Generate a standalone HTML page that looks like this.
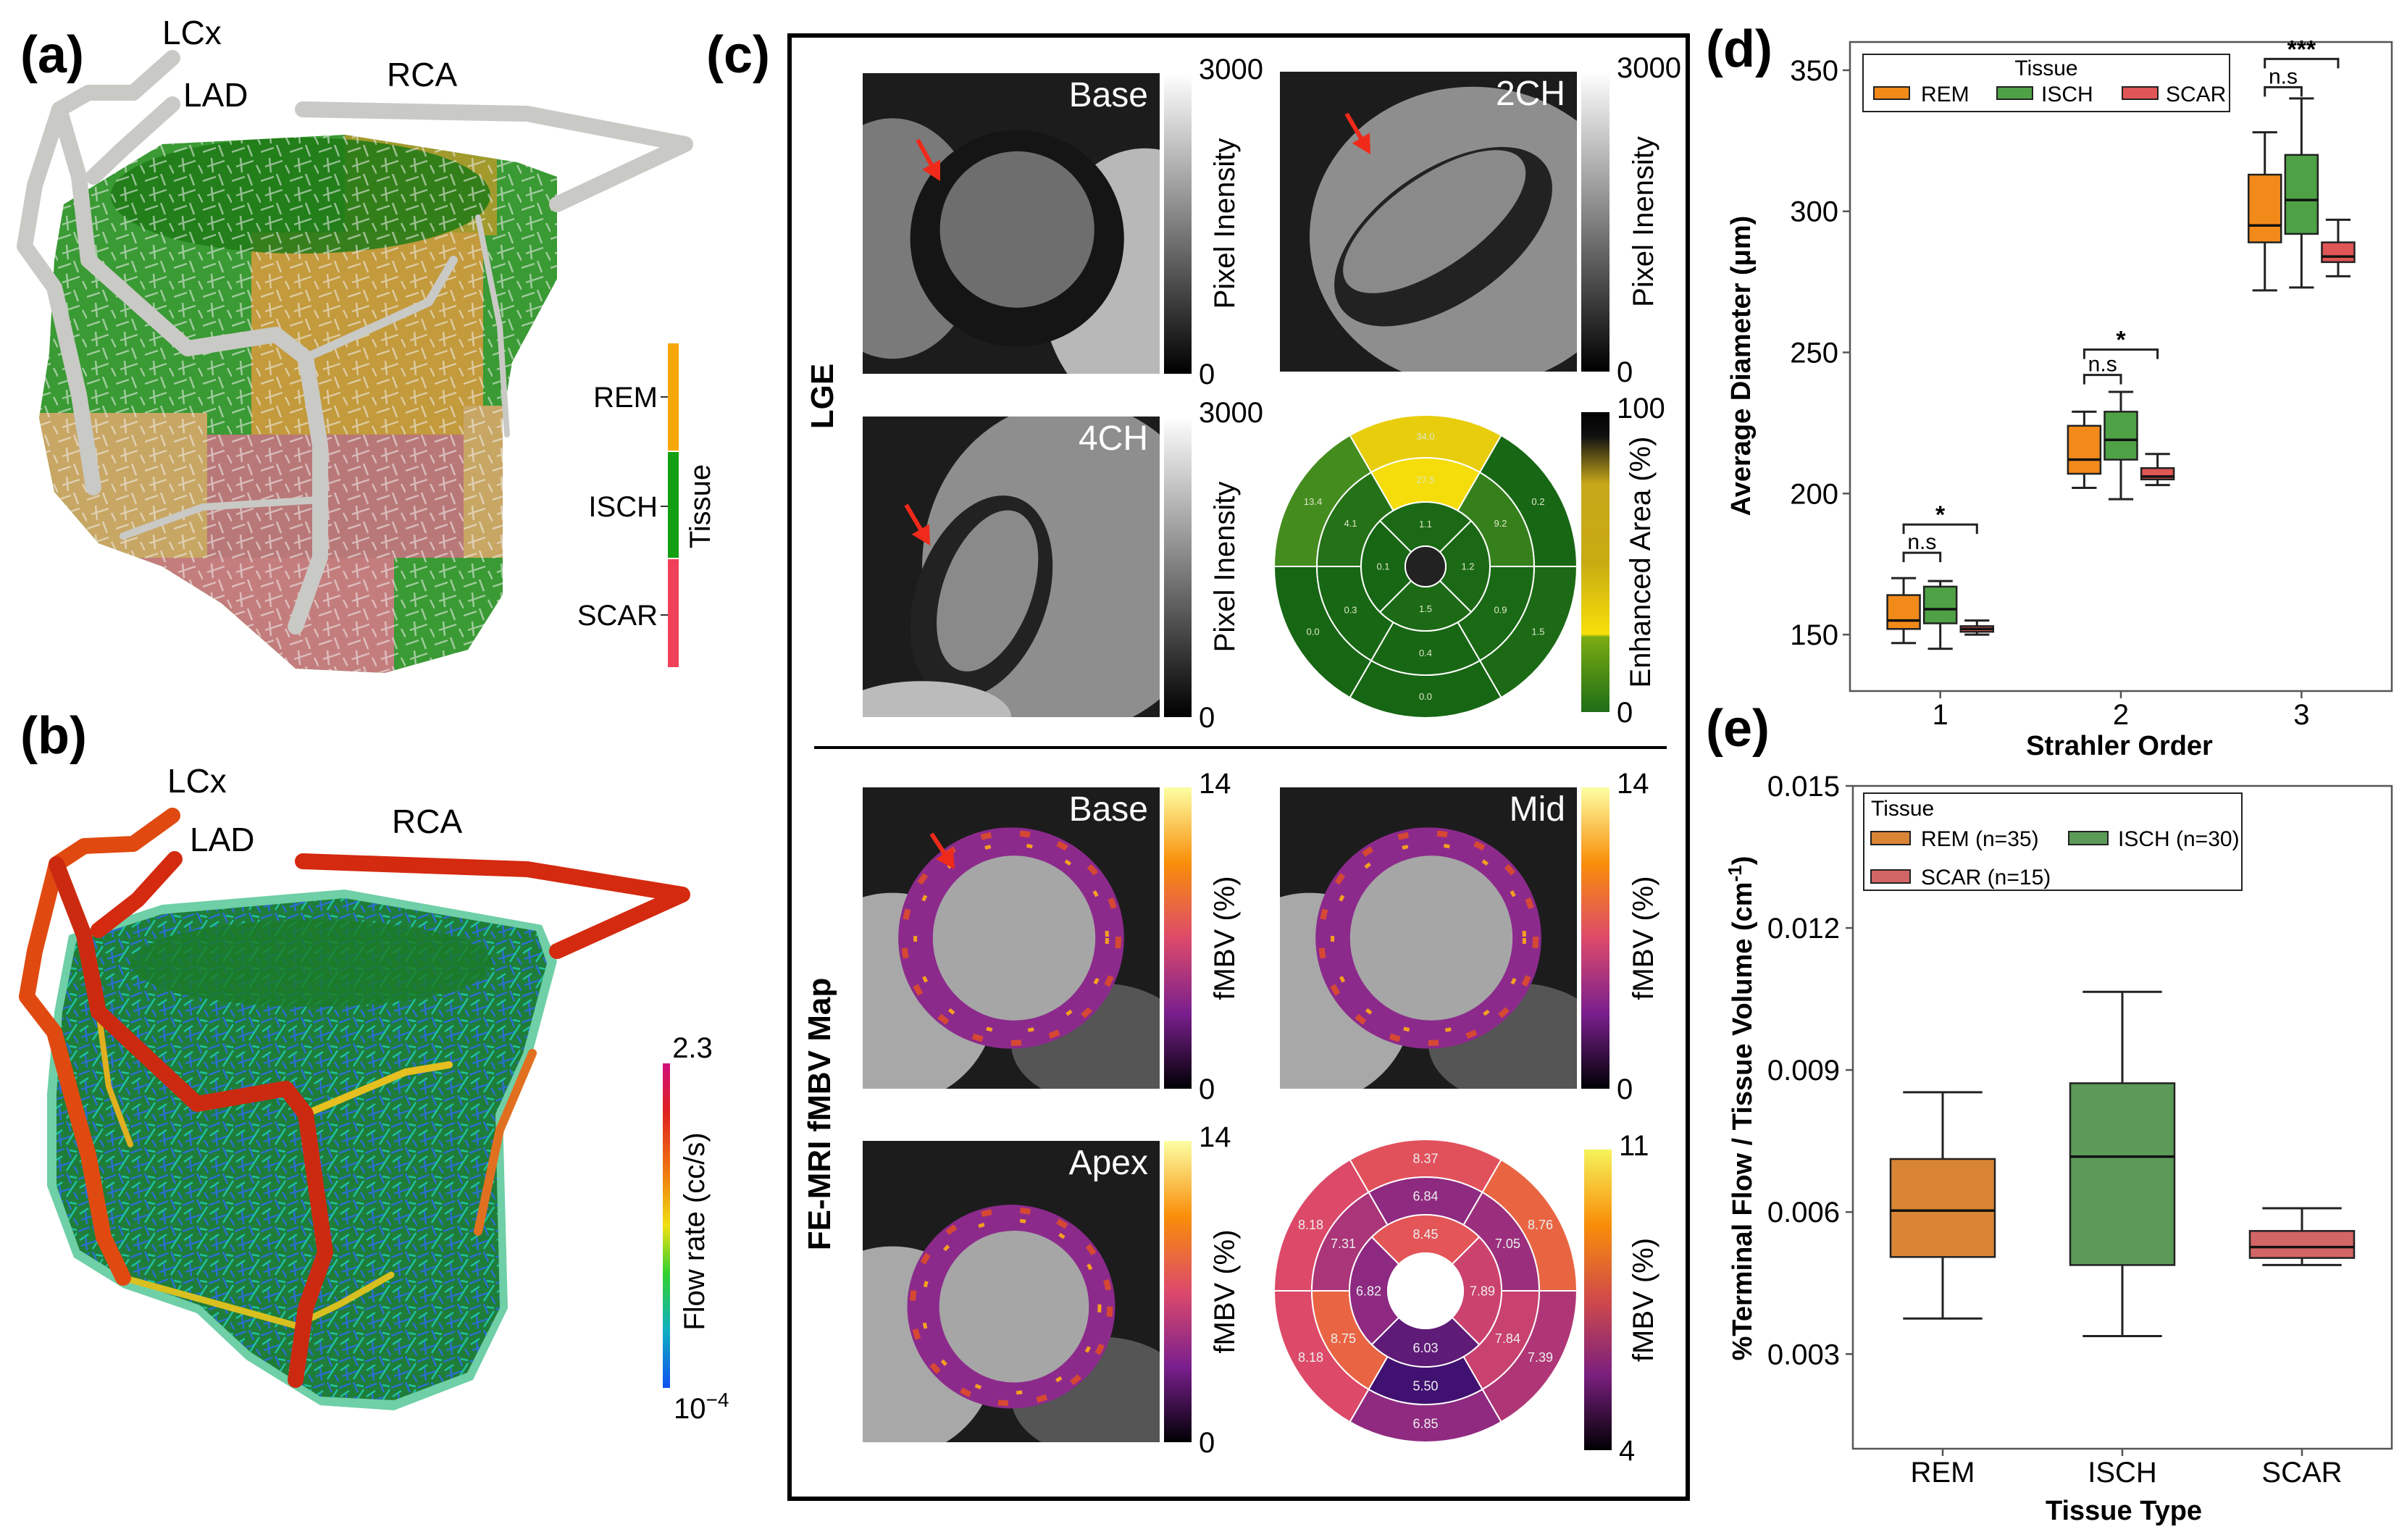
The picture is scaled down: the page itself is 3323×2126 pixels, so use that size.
<!DOCTYPE html>
<html><head><meta charset="utf-8"><style>
html,body{margin:0;padding:0;background:#fff}
svg{display:block;font-family:"Liberation Sans",Arial,sans-serif}
</style></head><body>
<svg id="fig" width="3323" height="2126" viewBox="0 0 3323 2126" xmlns="http://www.w3.org/2000/svg">
<defs>
  <pattern id="netA" width="40" height="40" patternUnits="userSpaceOnUse">
    <path d="M0 10 L18 4 M6 30 L30 22 M22 0 L28 16 M34 28 L40 40 M12 18 L14 38" stroke="#f2f2f2" stroke-width="2.5" opacity="0.55" fill="none"/>
  </pattern>
  <pattern id="netB" width="36" height="36" patternUnits="userSpaceOnUse">
    <path d="M0 8 L16 2 M4 28 L28 20 M20 0 L26 14 M30 26 L36 36 M10 16 L12 34" stroke="#2a6fd0" stroke-width="2.5" fill="none"/>
    <path d="M2 20 L14 12 M20 32 L34 10 M24 4 L34 6" stroke="#1fc2a0" stroke-width="2.5" fill="none"/>
  </pattern>
  <linearGradient id="grayBar" x1="0" y1="0" x2="0" y2="1"><stop offset="0" stop-color="#fff"/><stop offset="1" stop-color="#000"/></linearGradient>
  <linearGradient id="infBar" x1="0" y1="0" x2="0" y2="1"><stop offset="0" stop-color="#fcffa4"/><stop offset="0.25" stop-color="#f98e09"/><stop offset="0.5" stop-color="#dd4a6b"/><stop offset="0.75" stop-color="#7a1f8e"/><stop offset="1" stop-color="#000004"/></linearGradient>
  <linearGradient id="infBar2" x1="0" y1="0" x2="0" y2="1"><stop offset="0" stop-color="#f6f35a"/><stop offset="0.25" stop-color="#f98e09"/><stop offset="0.5" stop-color="#d04a4a"/><stop offset="0.75" stop-color="#7a1f7e"/><stop offset="1" stop-color="#000004"/></linearGradient>
  <linearGradient id="lgeBar" x1="0" y1="0" x2="0" y2="1"><stop offset="0" stop-color="#000"/><stop offset="0.08" stop-color="#111"/><stop offset="0.24" stop-color="#c7a81a"/><stop offset="0.5" stop-color="#c8aa12"/><stop offset="0.74" stop-color="#f6e10a"/><stop offset="0.75" stop-color="#7aab12"/><stop offset="1" stop-color="#1e6e18"/></linearGradient>
  <linearGradient id="flowBar" x1="0" y1="0" x2="0" y2="1"><stop offset="0" stop-color="#d0107a"/><stop offset="0.15" stop-color="#e02020"/><stop offset="0.35" stop-color="#f08010"/><stop offset="0.5" stop-color="#f0e010"/><stop offset="0.65" stop-color="#30d030"/><stop offset="0.82" stop-color="#10b0c0"/><stop offset="1" stop-color="#1050f0"/></linearGradient>
  <clipPath id="cpA"><path d="M88 282 L224 199 L476 186 L714 224 L769 244 L769 385 L707 500 L694 577 L694 821 L646 897 L531 929 L408 923 L306 833 L224 782 L136 750 L75 679 L54 577 L68 487 L75 359 Z"/></clipPath>
</defs>

<text x="28" y="100" font-size="72" font-weight="bold">(a)</text>
<text x="28" y="1040" font-size="72" font-weight="bold">(b)</text>
<text x="975" y="100" font-size="72" font-weight="bold">(c)</text>
<text x="2355" y="92" font-size="72" font-weight="bold">(d)</text>
<text x="2355" y="1030" font-size="72" font-weight="bold">(e)</text>

<g>
  <g clip-path="url(#cpA)">
    <rect x="0" y="150" width="800" height="800" fill="#3a9a34"/>
    <rect x="476" y="180" width="210" height="145" fill="#a29a2c"/>
    <rect x="347" y="321" width="320" height="294" fill="#c39a3c"/>
    <rect x="0" y="570" width="286" height="200" fill="#c8a664"/>
    <rect x="286" y="600" width="354" height="170" fill="#b97878"/>
    <rect x="640" y="560" width="60" height="210" fill="#c8a664"/>
    <rect x="0" y="770" width="544" height="200" fill="#c47d7d"/>
    <ellipse cx="415" cy="270" rx="262" ry="80" fill="#1f7a16" opacity="0.85"/>
    <rect x="0" y="150" width="800" height="800" fill="url(#netA)"/>
  </g>
  <g fill="none" stroke="#c9c9c5" stroke-linecap="round" stroke-linejoin="round">
    <polyline stroke-width="22" points="238,80 184,128 122,128 82,151 48,256 34,340 75,397 109,545 129,673"/>
    <polyline stroke-width="22" points="238,144 170,205 129,244"/>
    <polyline stroke-width="22" points="82,151 109,244 122,359 259,481 381,462 422,494 442,615 442,769 408,865"/>
    <polyline stroke-width="22" points="418,151 728,157 946,199 769,282"/>
    <polyline stroke-width="12" points="422,494 592,417 626,359"/>
    <polyline stroke-width="10" points="170,740 280,700 440,690"/>
    <polyline stroke-width="8" points="660,300 690,450 700,600"/>
  </g>
  <text x="224" y="61" font-size="46">LCx</text>
  <text x="253" y="147" font-size="46">LAD</text>
  <text x="534" y="119" font-size="46">RCA</text>
</g>
<g>
  <rect x="922" y="474" width="15" height="148" fill="#f6a70a"/>
  <rect x="922" y="624" width="15" height="146" fill="#12a012"/>
  <rect x="922" y="772" width="15" height="149" fill="#f0405a"/>
  <path d="M912 548 H922 M912 699 H922 M912 849 H922" stroke="#333" stroke-width="2"/>
  <text x="908" y="562" font-size="40" text-anchor="end">REM</text>
  <text x="908" y="713" font-size="40" text-anchor="end">ISCH</text>
  <text x="908" y="863" font-size="40" text-anchor="end">SCAR</text>
  <text transform="translate(980,699) rotate(-90)" font-size="40" text-anchor="middle">Tissue</text>
</g>

<g>
  <path d="M95 1291 L224 1249 L476 1228 L748 1277 L769 1327 L735 1454 L694 1538 L701 1806 L653 1905 L544 1947 L442 1940 L340 1877 L272 1813 L170 1778 L102 1736 L65 1637 L65 1510 L75 1397 Z" fill="#6fcfa6"/>
  <path d="M105 1300 L224 1262 L476 1240 L740 1285 L755 1330 L722 1454 L684 1538 L690 1806 L645 1895 L544 1933 L442 1928 L345 1866 L276 1802 L175 1766 L110 1726 L78 1637 L78 1510 L86 1397 Z" fill="#1f7d3a"/>
  <path d="M105 1300 L224 1262 L476 1240 L740 1285 L755 1330 L722 1454 L684 1538 L690 1806 L645 1895 L544 1933 L442 1928 L345 1866 L276 1802 L175 1766 L110 1726 L78 1637 L78 1510 L86 1397 Z" fill="url(#netB)"/>
  <ellipse cx="430" cy="1330" rx="250" ry="60" fill="#1a7a28" opacity="0.8"/>
  <g fill="none" stroke-linecap="round" stroke-linejoin="round">
    <polyline stroke="#e6c020" stroke-width="10" points="422,1538 560,1480 620,1470"/>
    <polyline stroke="#d8c020" stroke-width="9" points="170,1764 300,1800 408,1830 470,1800 540,1760"/>
    <polyline stroke="#e0b020" stroke-width="8" points="136,1397 150,1500 180,1580"/>
    <polyline stroke="#e07020" stroke-width="12" points="735,1454 690,1560 660,1700"/>
    <polyline stroke="#e04a10" stroke-width="22" points="238,1126 184,1165 116,1168 78,1193 48,1313 37,1376 75,1425 102,1524 122,1595 143,1708 170,1764"/>
    <polyline stroke="#d42a10" stroke-width="22" points="241,1186 190,1242 136,1284"/>
    <polyline stroke="#cc2a10" stroke-width="22" points="78,1193 116,1291 136,1397 272,1524 395,1503 422,1538 449,1729 422,1806 408,1905"/>
    <polyline stroke="#d42a10" stroke-width="22" points="418,1189 728,1200 942,1235 769,1313"/>
  </g>
  <text x="231" y="1094" font-size="46">LCx</text>
  <text x="262" y="1175" font-size="46">LAD</text>
  <text x="541" y="1150" font-size="46">RCA</text>
</g>
<g>
  <rect x="915" y="1468" width="10" height="448" fill="url(#flowBar)"/>
  <text x="956" y="1460" font-size="40" text-anchor="middle">2.3</text>
  <text x="930" y="1958" font-size="40">10<tspan dy="-16" font-size="28">−4</tspan></text>
  <text transform="translate(972,1700) rotate(-90)" font-size="40" text-anchor="middle">Flow rate (cc/s)</text>
</g>

<rect x="1090" y="49" width="1240" height="2020" fill="none" stroke="#000" stroke-width="6"/>
<line x1="1124" y1="1032" x2="2301" y2="1032" stroke="#000" stroke-width="4"/>
<text transform="translate(1150,547) rotate(-90)" font-size="44" font-weight="bold" text-anchor="middle">LGE</text>
<text transform="translate(1146,1538) rotate(-90)" font-size="44" font-weight="bold" text-anchor="middle">FE-MRI fMBV Map</text>
<g id="cpanel"></g>

<g id="chartD"></g>
<g id="chartE"></g>
</svg>
<script>
const NS="http://www.w3.org/2000/svg";
function mk(parent,tag,attrs,text){const e=document.createElementNS(NS,tag);for(const k in attrs)e.setAttribute(k,attrs[k]);if(text!==undefined)e.textContent=text;parent.appendChild(e);return e;}

/* ---------- Panel d data ---------- */
const dCategories=["1","2","3"];
const dSeries=["REM","ISCH","SCAR"];
const dREM=[[147,152,155,164,170],[202,207,212,224,229],[272,289,295,313,328]];
const dISCH=[[145,154,159,167,169],[198,212,219,229,236],[273,292,304,320,340]];
const dSCAR=[[150,151,152,153,155],[203,205,206,209,214],[277,282,284,289,297]];
const dTicks=[150,200,250,300,350];
const dSigNs=[179,242,344];
const dSigStar=[189,251,354];
const dSigLabel=["*","*","***"];

/* ---------- Panel e data ---------- */
const eCategories=["REM","ISCH","SCAR"];
const eREM=[0.00375,0.00505,0.00603,0.00712,0.00853];
const eISCH=[0.00338,0.00488,0.00717,0.00872,0.01065];
const eSCAR=[0.00488,0.00503,0.00526,0.00560,0.00608];
const eTicks=[0.003,0.006,0.009,0.012,0.015];

/* ---------- Bullseye data ---------- */
const lgeOuter=[34.0,0.2,1.5,0.0,0.0,13.4];
const lgeMid=[27.5,9.2,0.9,0.4,0.3,4.1];
const lgeInner=[1.1,1.2,1.5,0.1];
const fmbvOuter=[8.37,8.76,7.39,6.85,8.18,8.18];
const fmbvMid=[6.84,7.05,7.84,5.50,8.75,7.31];
const fmbvInner=[8.45,7.89,6.03,6.82];

const colD={REM:"#f28a1a",ISCH:"#4ea245",SCAR:"#e05555"};
const colE={REM:"#d98535",ISCH:"#5c9a58",SCAR:"#d26565"};

function boxPlot(g,cx,w,st,ys,fill,name){
  const grp=mk(g,"g",{});
  
  
  const cap=w*0.38;
  mk(grp,"line",{x1:cx,x2:cx,y1:ys(st[0]),y2:ys(st[1]),stroke:"#222","stroke-width":3});
  mk(grp,"line",{x1:cx,x2:cx,y1:ys(st[3]),y2:ys(st[4]),stroke:"#222","stroke-width":3});
  mk(grp,"line",{x1:cx-cap,x2:cx+cap,y1:ys(st[0]),y2:ys(st[0]),stroke:"#222","stroke-width":3});
  mk(grp,"line",{x1:cx-cap,x2:cx+cap,y1:ys(st[4]),y2:ys(st[4]),stroke:"#222","stroke-width":3});
  mk(grp,"rect",{x:cx-w/2,y:ys(st[3]),width:w,height:ys(st[1])-ys(st[3]),fill:fill,stroke:"#222","stroke-width":2.5});
  mk(grp,"line",{x1:cx-w/2,x2:cx+w/2,y1:ys(st[2]),y2:ys(st[2]),stroke:"#111","stroke-width":3.5});
}

(function(){
  const g=document.getElementById("chartD");
  const L=2554,R=3302,T=58,B=954,dMin=130,dMax=360;
  const ys=v=>B-(v-dMin)/(dMax-dMin)*(B-T);
  const step=(R-L)/dCategories.length;
  const xs=i=>L+(i+0.5)*step;
  const frame=mk(g,"rect",{x:L,y:T,width:R-L,height:B-T,fill:"none",stroke:"#555","stroke-width":2.5});
  
  
  dTicks.forEach(t=>{
    mk(g,"line",{x1:L-10,x2:L,y1:ys(t),y2:ys(t),stroke:"#555","stroke-width":2.5});
    const tx=mk(g,"text",{x:L-16,y:ys(t)+14,"font-size":40,"text-anchor":"end"},String(t));
    
    
  });
  dCategories.forEach((c,i)=>{
    mk(g,"line",{x1:xs(i),x2:xs(i),y1:B,y2:B+10,stroke:"#555","stroke-width":2.5});
    const tx=mk(g,"text",{x:xs(i),y:B+46,"font-size":40,"text-anchor":"middle"},c);
    
    
    const off=step*0.203, bw=45;
    boxPlot(g,xs(i)-off,bw,dREM[i],ys,colD.REM,'box-rem-order'+c);
    boxPlot(g,xs(i),bw,dISCH[i],ys,colD.ISCH,'box-isch-order'+c);
    boxPlot(g,xs(i)+off,bw,dSCAR[i],ys,colD.SCAR,'box-scar-order'+c);
    const yn=ys(dSigNs[i]), yst=ys(dSigStar[i]);
    const b1=mk(g,"path",{d:`M${xs(i)-off} ${yn+13} V${yn} H${xs(i)} V${yn+13}`,fill:"none",stroke:"#222","stroke-width":3});
    
    
    mk(g,"text",{x:xs(i)-off/2,y:yn-5,"font-size":30,"text-anchor":"middle"},"n.s");
    const b2=mk(g,"path",{d:`M${xs(i)-off} ${yst+13} V${yst} H${xs(i)+off} V${yst+13}`,fill:"none",stroke:"#222","stroke-width":3});
    
    
    mk(g,"text",{x:xs(i),y:yst-2,"font-size":34,"font-weight":"bold","text-anchor":"middle"},dSigLabel[i]);
  });
  const xt=mk(g,"text",{x:2926,y:1042,"font-size":38,"font-weight":"bold","text-anchor":"middle"},"Strahler Order");
  
  
  const yt=mk(g,"text",{transform:"translate(2416,505) rotate(-90)","font-size":38,"font-weight":"bold","text-anchor":"middle"},"Average Diameter (μm)");
  
  
  const lg=mk(g,"g",{});
  
  
  mk(lg,"rect",{x:2572,y:75,width:506,height:79,fill:"#fff",stroke:"#222","stroke-width":2});
  mk(lg,"text",{x:2825,y:104,"font-size":30,"text-anchor":"middle"},"Tissue");
  const px=[2587,2757,2930], tx=[2652,2818,2990];
  dSeries.forEach((s,k)=>{
    const p=mk(lg,"rect",{x:px[k],y:120,width:49,height:17,fill:colD[s],stroke:"#222","stroke-width":2});
    
    
    mk(lg,"text",{x:tx[k],y:140,"font-size":30},s);
  });
})();

(function(){
  const g=document.getElementById("chartE");
  const L=2558,R=3302,T=1085,B=2000,eMin=0.001,eMax=0.015;
  const ys=v=>B-(v-eMin)/(eMax-eMin)*(B-T);
  const step=(R-L)/eCategories.length;
  const xs=i=>L+(i+0.5)*step;
  const frame=mk(g,"rect",{x:L,y:T,width:R-L,height:B-T,fill:"none",stroke:"#555","stroke-width":2.5});
  
  
  eTicks.forEach(t=>{
    mk(g,"line",{x1:L-10,x2:L,y1:ys(t),y2:ys(t),stroke:"#555","stroke-width":2.5});
    const tx=mk(g,"text",{x:L-18,y:ys(t)+14,"font-size":40,"text-anchor":"end"},t.toFixed(3));
    
    
  });
  const stats=[eREM,eISCH,eSCAR];
  eCategories.forEach((c,i)=>{
    mk(g,"line",{x1:xs(i),x2:xs(i),y1:B,y2:B+10,stroke:"#555","stroke-width":2.5});
    const tx=mk(g,"text",{x:xs(i),y:B+46,"font-size":40,"text-anchor":"middle"},c);
    
    
    boxPlot(g,xs(i),144,stats[i],ys,colE[c],'box-'+c.toLowerCase());
  });
  const xt=mk(g,"text",{x:2932,y:2098,"font-size":38,"font-weight":"bold","text-anchor":"middle"},"Tissue Type");
  
  
  const yt=mk(g,"text",{transform:"translate(2418,1530) rotate(-90)","font-size":38,"font-weight":"bold","text-anchor":"middle"});
  
  
  yt.textContent="%Terminal Flow / Tissue Volume (cm";
  mk(yt,"tspan",{dy:-14,"font-size":26},"-1");
  mk(yt,"tspan",{dy:14},")");
  const lg=mk(g,"g",{});
  
  
  mk(lg,"rect",{x:2573,y:1095,width:522,height:134,fill:"#fff",stroke:"#222","stroke-width":2});
  mk(lg,"text",{x:2583,y:1126,"font-size":30},"Tissue");
  const ent=[["REM (n=35)",2583,2652,1157,colE.REM],["ISCH (n=30)",2856,2924,1157,colE.ISCH],["SCAR (n=15)",2583,2652,1210,colE.SCAR]];
  ent.forEach(en=>{
    const p=mk(lg,"rect",{x:en[1],y:en[3]-9,width:54,height:18,fill:en[4],stroke:"#222","stroke-width":2});
    
    
    mk(lg,"text",{x:en[2],y:en[3]+11,"font-size":30},en[0]);
  });
})();

function hex(c){return [parseInt(c.slice(1,3),16),parseInt(c.slice(3,5),16),parseInt(c.slice(5,7),16)];}
function interp(stops,t){t=Math.max(0,Math.min(1,t));for(let i=1;i<stops.length;i++){if(t<=stops[i][0]){const a=stops[i-1],b=stops[i];const f=(t-a[0])/(b[0]-a[0]||1);const A=hex(a[1]),B=hex(b[1]);return "rgb("+A.map((v,k)=>Math.round(v+(B[k]-v)*f)).join(",")+")";}}return stops[stops.length-1][1];}
const inferno=[[0,"#000004"],[0.2,"#3b0f70"],[0.4,"#8c2981"],[0.6,"#de4968"],[0.8,"#f98e09"],[1,"#fcffa4"]];
const lgeMap=[[0,"#176614"],[0.15,"#4a9020"],[0.25,"#8ab010"],[0.26,"#f7e00a"],[0.5,"#c9a812"],[0.75,"#3a3a08"],[1,"#000000"]];
function sector(cx,cy,r0,r1,a0,a1){const p=(r,a)=>[cx+r*Math.cos(a*Math.PI/180),cy-r*Math.sin(a*Math.PI/180)];
  const [x1,y1]=p(r1,a0),[x2,y2]=p(r1,a1),[x3,y3]=p(r0,a1),[x4,y4]=p(r0,a0);
  return `M${x1} ${y1} A${r1} ${r1} 0 0 0 ${x2} ${y2} L${x3} ${y3} A${r0} ${r0} 0 0 1 ${x4} ${y4} Z`;}
function bullseye(g,cx,cy,radii,outer,mid,inner,colorFn,textSize,textCol,holeFill,name){
  const grp=mk(g,"g",{});
  
  
  const rings=[[radii[1],radii[0],outer],[radii[2],radii[1],mid]];
  rings.forEach(rg=>{rg[2].forEach((v,i)=>{const c=90-60*i;
    const s=mk(grp,"path",{d:sector(cx,cy,rg[0],rg[1],c-30,c+30),fill:colorFn(v),stroke:"#fff","stroke-width":2});
    
    
    const rm=(rg[0]+rg[1])/2;mk(grp,"text",{x:cx+rm*Math.cos(c*Math.PI/180),y:cy-rm*Math.sin(c*Math.PI/180)+textSize*0.35,"font-size":textSize,fill:textCol,"text-anchor":"middle"},v.toFixed(radii[4]));});});
  inner.forEach((v,i)=>{const c=90-90*i;
    const s=mk(grp,"path",{d:sector(cx,cy,radii[3],radii[2],c-45,c+45),fill:colorFn(v),stroke:"#fff","stroke-width":2});
    
    
    const rm=(radii[2]+radii[3])/2;mk(grp,"text",{x:cx+rm*Math.cos(c*Math.PI/180),y:cy-rm*Math.sin(c*Math.PI/180)+textSize*0.35,"font-size":textSize,fill:textCol,"text-anchor":"middle"},v.toFixed(radii[4]));});
  mk(grp,"circle",{cx:cx,cy:cy,r:radii[3],fill:holeFill,stroke:"#fff","stroke-width":2});
}
(function(){
  const g=document.getElementById("cpanel");
  function mri(x,y,w,h,kind,label,name){
    const grp=mk(g,"g",{});
    
    
    const cid="clip"+name;const cp=mk(grp,"clipPath",{id:cid});mk(cp,"rect",{x:x,y:y,width:w,height:h});
    const inner=mk(grp,"g",{"clip-path":`url(#${cid})`});
    mk(inner,"rect",{x:x,y:y,width:w,height:h,fill:"#1c1c1c"});
    if(kind==="base"){mk(inner,"ellipse",{cx:x+w*0.95,cy:y+h*0.7,rx:w*0.35,ry:h*0.45,fill:"#b8b8b8"});mk(inner,"ellipse",{cx:x+w*0.1,cy:y+h*0.55,rx:w*0.3,ry:h*0.4,fill:"#7a7a7a"});mk(inner,"ellipse",{cx:x+w*0.52,cy:y+h*0.55,rx:w*0.36,ry:h*0.36,fill:"#151515"});mk(inner,"ellipse",{cx:x+w*0.52,cy:y+h*0.52,rx:w*0.26,ry:h*0.26,fill:"#6e6e6e"});}
    if(kind==="2ch"){mk(inner,"ellipse",{cx:x+w*0.65,cy:y+h*0.55,rx:w*0.55,ry:h*0.5,fill:"#8e8e8e"});mk(inner,"ellipse",{cx:x+w*0.55,cy:y+h*0.55,rx:w*0.42,ry:h*0.22,fill:"#222",transform:`rotate(-35 ${x+w*0.55} ${y+h*0.55})`});mk(inner,"ellipse",{cx:x+w*0.52,cy:y+h*0.5,rx:w*0.36,ry:h*0.15,fill:"#8a8a8a",transform:`rotate(-35 ${x+w*0.52} ${y+h*0.5})`});}
    if(kind==="4ch"){mk(inner,"ellipse",{cx:x+w*0.7,cy:y+h*0.5,rx:w*0.5,ry:h*0.55,fill:"#8e8e8e"});mk(inner,"ellipse",{cx:x+w*0.4,cy:y+h*0.6,rx:w*0.22,ry:h*0.35,fill:"#222",transform:`rotate(20 ${x+w*0.4} ${y+h*0.6})`});mk(inner,"ellipse",{cx:x+w*0.42,cy:y+h*0.58,rx:w*0.15,ry:h*0.28,fill:"#8a8a8a",transform:`rotate(20 ${x+w*0.42} ${y+h*0.58})`});mk(inner,"ellipse",{cx:x+w*0.2,cy:y+h*1.0,rx:w*0.3,ry:h*0.12,fill:"#bbb"});}
    if(kind==="fmbv"||kind==="apex"){mk(inner,"ellipse",{cx:x+w*0.1,cy:y+h*0.7,rx:w*0.35,ry:h*0.35,fill:"#a8a8a8"});mk(inner,"ellipse",{cx:x+w*0.8,cy:y+h*0.85,rx:w*0.3,ry:h*0.2,fill:"#555"});
      const cx=x+w*0.5,cy=y+h*(kind==="apex"?0.55:0.5),rr=w*(kind==="apex"?0.35:0.38);
      mk(inner,"ellipse",{cx:cx,cy:cy,rx:rr,ry:rr*0.98,fill:"#8c2a8c"});
      mk(inner,"ellipse",{cx:cx,cy:cy,rx:rr*0.95,ry:rr*0.93,fill:"none",stroke:"#e8501e","stroke-width":8,"stroke-dasharray":"14 40",opacity:0.8});
      mk(inner,"ellipse",{cx:cx,cy:cy,rx:rr*0.85,ry:rr*0.83,fill:"none",stroke:"#f4a020","stroke-width":5,"stroke-dasharray":"8 50"});
      mk(inner,"ellipse",{cx:cx+4,cy:cy,rx:rr*0.72,ry:rr*0.73,fill:"#a6a6a6"});}
    const t=mk(grp,"text",{x:x+w-16,y:y+46,"font-size":48,fill:"#fff","text-anchor":"end"},label);
    
    
  }
  function cbar(x,y,w,h,fill,top,bot,title,tx,name){
    const grp=mk(g,"g",{});
    
    
    mk(grp,"rect",{x:x,y:y,width:w,height:h,fill:fill});
    mk(grp,"text",{x:x+w+10,y:y+8,"font-size":40},top);
    mk(grp,"text",{x:x+w+10,y:y+h+14,"font-size":40},bot);
    mk(grp,"text",{transform:`translate(${tx},${y+h/2}) rotate(-90)`,"font-size":40,"text-anchor":"middle"},title);
  }
  mri(1191,101,410,415,"base","Base","lge-base-image");
  cbar(1607,101,38,415,"url(#grayBar)","3000","0","Pixel Inensity",1704,"lge-base-colorbar");
  mri(1767,99,410,414,"2ch","2CH","lge-2ch-image");
  cbar(2183,99,39,414,"url(#grayBar)","3000","0","Pixel Inensity",2282,"lge-2ch-colorbar");
  mri(1191,575,410,415,"4ch","4CH","lge-4ch-image");
  cbar(1607,575,38,415,"url(#grayBar)","3000","0","Pixel Inensity",1704,"lge-4ch-colorbar");
  bullseye(g,1968,782,[209,150,89,28,1],lgeOuter,lgeMid,lgeInner,v=>interp(lgeMap,v/100),13,"#dde8c8","#222","lge-bullseye");
  cbar(2183,569,39,414,"url(#lgeBar)","100","0","Enhanced Area (%)",2278,"lge-bullseye-colorbar");
  mri(1191,1087,410,416,"fmbv","Base","fmbv-base-image");
  cbar(1607,1087,38,416,"url(#infBar)","14","0","fMBV (%)",1704,"fmbv-base-colorbar");
  mri(1767,1087,410,416,"fmbv","Mid","fmbv-mid-image");
  cbar(2183,1087,39,416,"url(#infBar)","14","0","fMBV (%)",2282,"fmbv-mid-colorbar");
  mri(1191,1575,410,416,"apex","Apex","fmbv-apex-image");
  cbar(1607,1575,38,416,"url(#infBar)","14","0","fMBV (%)",1704,"fmbv-apex-colorbar");
  bullseye(g,1968,1782,[209,157,105,52,2],fmbvOuter,fmbvMid,fmbvInner,v=>interp(inferno,(v-4)/7),18,"#eee","#fff","fmbv-bullseye");
  cbar(2187,1587,38,415,"url(#infBar2)","11","4","fMBV (%)",2282,"fmbv-bullseye-colorbar");
  const arrows=[[1267,193,1298,250],[1859,157,1892,213],[1251,697,1284,753],[1286,1151,1318,1200]];
  arrows.forEach(a=>{
    const ag=mk(g,"g",{});
    
    
    const dx=a[2]-a[0],dy=a[3]-a[1],L=Math.hypot(dx,dy),ux=dx/L,uy=dy/L;
    mk(ag,"line",{x1:a[0],y1:a[1],x2:a[2]-ux*18,y2:a[3]-uy*18,stroke:"#f02a1a","stroke-width":6});
    const bx=a[2]-ux*26,by=a[3]-uy*26;
    mk(ag,"polygon",{points:`${a[2]},${a[3]} ${bx-uy*14},${by+ux*14} ${bx+uy*14},${by-ux*14}`,fill:"#f02a1a"});
  });
})();
</script>
</body></html>
